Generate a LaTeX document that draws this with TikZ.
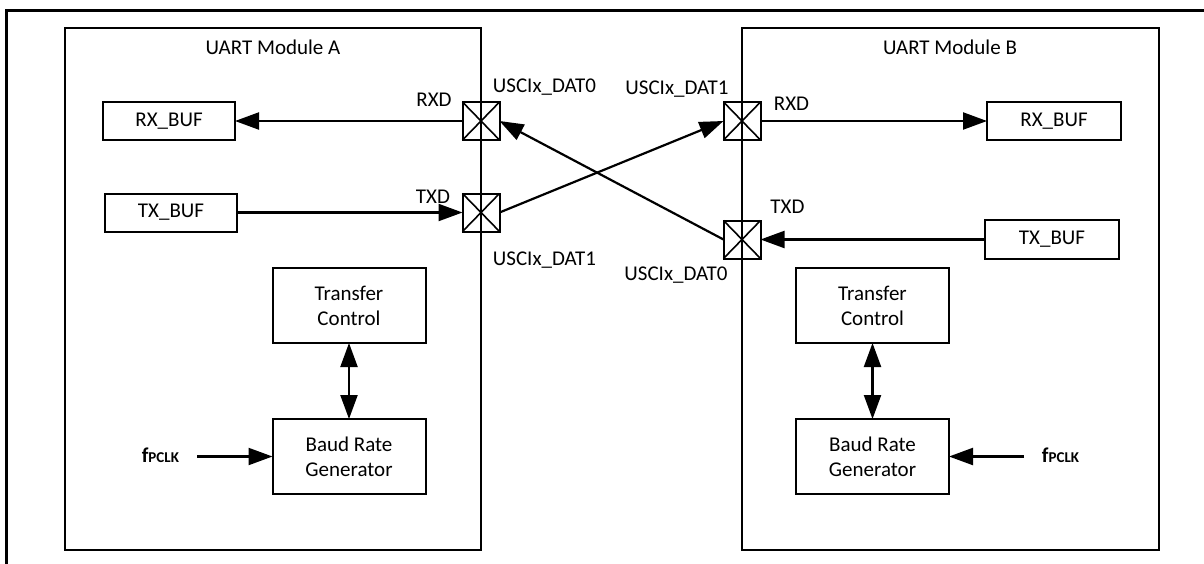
\documentclass[tikz,border=0pt]{standalone}
\usepackage{fontspec}
\setmainfont{Carlito}
\usetikzlibrary{arrows.meta}
\begin{document}
\begin{tikzpicture}[x=1pt,y=-1pt,
  font=\fontsize{21}{25}\selectfont,
  every node/.style={inner sep=0pt, outer sep=0pt},
  module/.style={draw, line width=2pt},
  blk/.style={draw, line width=2pt, align=center},
  pinbox/.style={draw, line width=2pt, minimum width=37pt, minimum height=38pt},
  lbl/.style={anchor=base},
  sig/.style={line width=2.2pt, -{Triangle[length=24pt,width=17pt]}},
  bisig/.style={line width=2.2pt, {Triangle[length=24pt,width=17pt]}-{Triangle[length=24pt,width=17pt]}},
  xline/.style={line width=1.6pt}
]
\useasboundingbox (0,0) rectangle (1204,563);
% outer frame
\draw[line width=3pt] (6.5,570) -- (6.5,10) -- (1210,10);

% modules
\node[module, minimum width=416pt, minimum height=522pt] (modA) at (273,288.5) {};
\node[module, minimum width=416.8pt, minimum height=522pt] (modB) at (950.2,288.5) {};
\node[lbl] (titleA) at (273,54) {UART Module A};
\node[lbl] (titleB) at (950,54) {UART Module B};

% module A blocks
\node[blk, minimum width=132pt, minimum height=38pt] (rxA) at (169,121) {RX\_BUF};
\node[blk, minimum width=132pt, minimum height=38pt] (txA) at (171,212.5) {TX\_BUF};
\node[pinbox] (pA0) at (481,121) {};
\node[pinbox] (pA1) at (481,212.5) {};
\node[blk, minimum width=153pt, minimum height=75pt] (tcA) at (349,305.5) {Transfer\\Control};
\node[blk, minimum width=153pt, minimum height=75pt] (bgA) at (349,456.5) {Baud Rate\\Generator};
\node[lbl] (fA) at (160.4,462.7) {\bfseries f{\fontsize{15}{15}\selectfont PCLK}};
\coordinate (fAe) at (197,456.5);

% module B blocks
\node[pinbox] (pB0) at (742,121) {};
\node[pinbox] (pB1) at (742,239.5) {};
\node[blk, minimum width=134pt, minimum height=38pt] (rxB) at (1054,121) {RX\_BUF};
\node[blk, minimum width=134pt, minimum height=39pt] (txB) at (1052,239.5) {TX\_BUF};
\node[blk, minimum width=153pt, minimum height=75pt] (tcB) at (872.5,305.5) {Transfer\\Control};
\node[blk, minimum width=153pt, minimum height=75pt] (bgB) at (872.5,456.5) {Baud Rate\\Generator};
\node[lbl] (fB) at (1060.5,462.7) {\bfseries f{\fontsize{15}{15}\selectfont PCLK}};
\coordinate (fBe) at (1024,456.5);

% pin crosses
\foreach \p in {pA0,pA1,pB0,pB1}
  \draw[xline] (\p.north west) -- (\p.south east) (\p.north east) -- (\p.south west);

% labels
\node[lbl] (dA0) at (544.5,92.7) {USCIx\_DAT0};
\node[lbl] (rxdA) at (434,106) {RXD};
\node[lbl] (txdA) at (433,203.5) {TXD};
\node[lbl] (dA1) at (544.5,265) {USCIx\_DAT1};
\node[lbl] (dB1) at (677,94) {USCIx\_DAT1};
\node[lbl] (rxdB) at (791.5,110) {RXD};
\node[lbl] (txdB) at (787.5,213) {TXD};
\node[lbl] (dB0) at (676,280) {USCIx\_DAT0};

% connectors
\draw[sig] (pA0.west) -- (rxA.east);
\draw[sig] (txA.east) -- (pA1.west);
\draw[sig] (pA1.east) -- (pB0.west);
\draw[sig] (pB1.west) -- (pA0.east);
\draw[sig] (pB0.east) -- (rxB.west);
\draw[sig] (txB.west) -- (pB1.east);
\draw[bisig] (tcA.south) -- (bgA.north);
\draw[bisig] (tcB.south) -- (bgB.north);
\draw[sig] (fAe) -- (bgA.west);
\draw[sig] (fBe) -- (bgB.east);
\end{tikzpicture}
\end{document}
